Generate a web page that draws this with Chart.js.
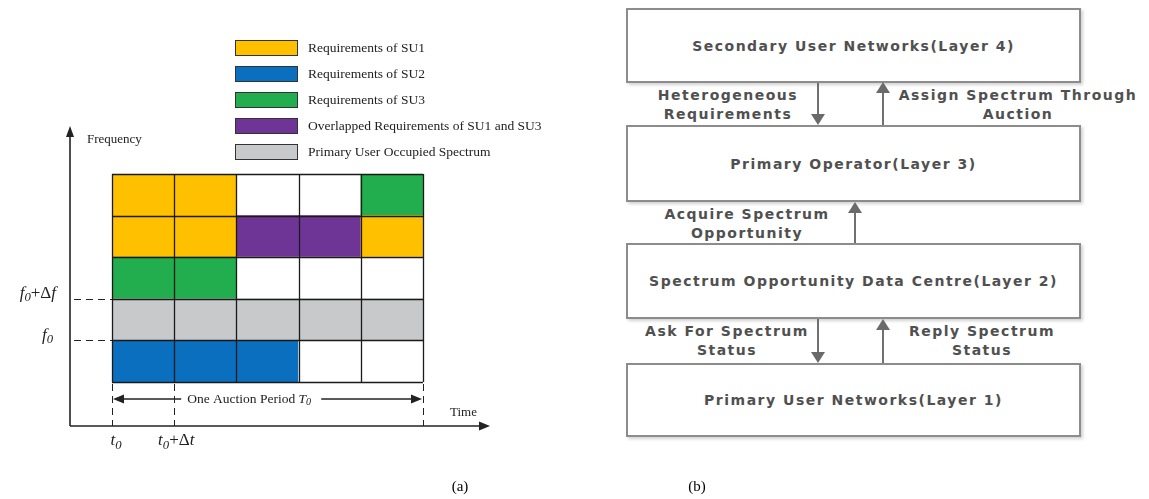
<!DOCTYPE html>
<html>
<head>
<meta charset="utf-8">
<script src="https://cdn.jsdelivr.net/npm/chart.js@4.4.1/dist/chart.umd.min.js"></script>
<style>
  html, body { margin: 0; padding: 0; background: #fff; }
  body { width: 1149px; height: 499px; position: relative; overflow: hidden; }
  #wrapA { position: absolute; left: 0; top: 0; width: 560px; height: 499px; }
  .box {
    position: absolute; left: 626px; width: 455px; box-sizing: border-box;
    border: 2px solid #8c8c8c; background: #fff;
    box-shadow: 2px 2px 3px rgba(0,0,0,0.18);
    display: flex; align-items: center; justify-content: center;
    font: bold 14px "DejaVu Sans", sans-serif; letter-spacing: 1.5px; color: #505050;
  }
  .lbl {
    position: absolute; transform: translateX(-50%); white-space: pre; text-align: center;
    font: bold 14px "DejaVu Sans", sans-serif; letter-spacing: 1.5px; color: #505050; line-height: 19px;
  }
  .stem { position: absolute; width: 2px; background: #707070; }
  .head { position: absolute; width: 0; height: 0; border-left: 7px solid transparent; border-right: 7px solid transparent; }
  .head.down { border-top: 11px solid #6a6a6a; }
  .head.up { border-bottom: 11px solid #6a6a6a; }
  .cap { position: absolute; font: 15px "Liberation Serif", serif; color: #000; transform: translateX(-50%); }
</style>
</head>
<body>
<div id="wrapA"><canvas id="chartA" width="560" height="499"></canvas></div>

<!-- (b) layered architecture -->
<div class="box" style="top:8px;height:75px;">Secondary User Networks(Layer 4)</div>
<div class="box" style="top:125px;height:77px;">Primary Operator(Layer 3)</div>
<div class="box" style="top:243px;height:76px;">Spectrum Opportunity Data Centre(Layer 2)</div>
<div class="box" style="top:363px;height:74px;">Primary User Networks(Layer 1)</div>

<div class="stem" style="left:817px;top:83px;height:32px;"></div>
<div class="head down" style="left:811px;top:114px;"></div>
<div class="stem" style="left:882px;top:92px;height:33px;"></div>
<div class="head up" style="left:876px;top:82px;"></div>

<div class="stem" style="left:854px;top:212px;height:31px;"></div>
<div class="head up" style="left:848px;top:202px;"></div>

<div class="stem" style="left:817px;top:319px;height:33px;"></div>
<div class="head down" style="left:811px;top:352px;"></div>
<div class="stem" style="left:882px;top:329px;height:34px;"></div>
<div class="head up" style="left:876px;top:319px;"></div>

<div class="lbl" style="left:728px;top:86px;">Heterogeneous
Requirements</div>
<div class="lbl" style="left:1018px;top:86px;">Assign Spectrum Through
Auction</div>
<div class="lbl" style="left:747px;top:205px;">Acquire Spectrum
Opportunity</div>
<div class="lbl" style="left:727px;top:322px;">Ask For Spectrum
Status</div>
<div class="lbl" style="left:982px;top:322px;">Reply Spectrum
Status</div>

<div class="cap" style="left:460px;top:478px;">(a)</div>
<div class="cap" style="left:697px;top:478px;">(b)</div>

<script>
// ─── Data: spectrum occupancy grid (a) ─────────────────────
const timeSlots = ['Δt1', 'Δt2', 'Δt3', 'Δt4', 'Δt5'];
// rows from lowest frequency band to highest
const band1 = ['SU2', 'SU2', 'SU2', 'free', 'free'];
const band2 = ['PU', 'PU', 'PU', 'PU', 'PU'];
const band3 = ['SU3', 'SU3', 'free', 'free', 'free'];
const band4 = ['SU1', 'SU1', 'SU13', 'SU13', 'SU1'];
const band5 = ['SU1', 'SU1', 'free', 'free', 'SU3'];
const bands = [band1, band2, band3, band4, band5];

const legendKeys = ['SU1', 'SU2', 'SU3', 'SU13', 'PU'];
const legendLabels = [
    'Requirements of SU1',
    'Requirements of SU2',
    'Requirements of SU3',
    'Overlapped Requirements of SU1 and SU3',
    'Primary User Occupied Spectrum',
];
const COLORS = {
    SU1: '#ffc000', SU2: '#0a6fbf', SU3: '#22ad4e', SU13: '#6f3596', PU: '#c8c9cb', free: '#ffffff',
};

const SERIF = '"Liberation Serif", "Times New Roman", serif';

// draw a run of text pieces, some italic / subscript
function drawRich(ctx, pieces, x, y, align, size) {
    const fontOf = p => `${p.it ? 'italic ' : ''}${p.sub ? size * 0.75 : size}px ${SERIF}`;
    let w = 0;
    pieces.forEach(p => { ctx.font = fontOf(p); w += ctx.measureText(p.t).width; });
    let cx = align === 'right' ? x - w : align === 'center' ? x - w / 2 : x;
    ctx.textAlign = 'left';
    ctx.textBaseline = 'middle';
    pieces.forEach(p => {
        ctx.font = fontOf(p);
        ctx.fillText(p.t, cx, p.sub ? y + size * 0.25 : y);
        cx += ctx.measureText(p.t).width;
    });
    return w;
}

function arrowHead(ctx, x, y, dir) {
    // dir: 'up' | 'right' | 'left'
    ctx.beginPath();
    if (dir === 'up') { ctx.moveTo(x, y); ctx.lineTo(x - 4, y + 11); ctx.lineTo(x + 4, y + 11); }
    if (dir === 'right') { ctx.moveTo(x, y); ctx.lineTo(x - 11, y - 4.5); ctx.lineTo(x - 11, y + 4.5); }
    if (dir === 'left') { ctx.moveTo(x, y); ctx.lineTo(x + 11, y - 4.5); ctx.lineTo(x + 11, y + 4.5); }
    ctx.closePath();
    ctx.fill();
}

const decorPlugin = {
    id: 'decor',
    afterDatasetsDraw(chart) {
        const { ctx, chartArea: a, scales: { x, y } } = chart;
        const colW = x.getPixelForValue(1) - x.getPixelForValue(0);
        const colEdge = i => x.getPixelForValue(0) - colW / 2 + i * colW;
        ctx.save();

        // cell borders
        ctx.strokeStyle = '#1a1a1a';
        ctx.lineWidth = 1.3;
        for (let i = 0; i <= timeSlots.length; i++) {
            const px = Math.round(colEdge(i)) + 0.5;
            ctx.beginPath(); ctx.moveTo(px, a.top); ctx.lineTo(px, a.bottom); ctx.stroke();
        }
        for (let j = 0; j <= bands.length; j++) {
            const py = Math.round(y.getPixelForValue(j)) + 0.5;
            ctx.beginPath(); ctx.moveTo(a.left, py); ctx.lineTo(a.right, py); ctx.stroke();
        }

        // axes
        const ox = a.left - 42, oy = a.bottom + 44;
        ctx.strokeStyle = '#222';
        ctx.fillStyle = '#222';
        ctx.lineWidth = 1.6;
        ctx.beginPath(); ctx.moveTo(ox, oy); ctx.lineTo(ox, a.top - 42); ctx.stroke();
        arrowHead(ctx, ox, a.top - 48, 'up');
        ctx.beginPath(); ctx.moveTo(ox, oy); ctx.lineTo(a.right + 60, oy); ctx.stroke();
        arrowHead(ctx, a.right + 67, oy, 'right');

        // dashed guides
        ctx.lineWidth = 1;
        ctx.setLineDash([7, 5]);
        [2, 1].forEach(v => {
            const py = Math.round(y.getPixelForValue(v)) + 0.5;
            ctx.beginPath(); ctx.moveTo(ox + 4, py); ctx.lineTo(a.left, py); ctx.stroke();
        });
        [0, 1, timeSlots.length].forEach(i => {
            const px = Math.round(colEdge(i)) + 0.5;
            ctx.beginPath(); ctx.moveTo(px, a.bottom + 2); ctx.lineTo(px, oy); ctx.stroke();
        });
        ctx.setLineDash([]);

        // auction period arrow
        const ay = a.bottom + 17;
        ctx.lineWidth = 1.5;
        ctx.beginPath(); ctx.moveTo(colEdge(0) + 4, ay); ctx.lineTo(colEdge(5) - 4, ay); ctx.stroke();
        arrowHead(ctx, colEdge(0) + 1, ay, 'left');
        arrowHead(ctx, colEdge(5) - 1, ay, 'right');
        ctx.fillStyle = '#fff';
        ctx.fillRect(colEdge(1) + 7, ay - 10, 140, 20);
        ctx.fillStyle = '#222';
        drawRich(ctx, [{ t: 'One Auction Period ' }, { t: 'T', it: true }, { t: '0', it: true, sub: true }],
            colEdge(1) + 13, ay, 'left', 13.5);

        // axis texts
        drawRich(ctx, [{ t: 'Frequency' }], ox + 17, a.top - 34, 'left', 13);
        drawRich(ctx, [{ t: 'Time' }], a.right + 27, oy - 13, 'left', 13);
        drawRich(ctx, [{ t: 'f', it: true }, { t: '0', it: true, sub: true }, { t: '+Δ' }, { t: 'f', it: true }],
            ox - 14, y.getPixelForValue(2) - 5, 'right', 17);
        drawRich(ctx, [{ t: 'f', it: true }, { t: '0', it: true, sub: true }],
            ox - 17, y.getPixelForValue(1) - 5, 'right', 17);
        drawRich(ctx, [{ t: 't', it: true }, { t: '0', it: true, sub: true }],
            colEdge(0) + 4, oy + 15, 'center', 17);
        drawRich(ctx, [{ t: 't', it: true }, { t: '0', it: true, sub: true }, { t: '+Δ' }, { t: 't', it: true }],
            colEdge(1) + 2, oy + 15, 'center', 17);

        // legend
        legendKeys.forEach((k, i) => {
            const ly = [48, 74, 100, 126, 152][i];
            ctx.fillStyle = COLORS[k];
            ctx.fillRect(235, ly - 8, 63, 16);
            ctx.strokeStyle = '#333';
            ctx.lineWidth = 1;
            ctx.strokeRect(235.5, ly - 7.5, 62, 15);
            ctx.fillStyle = '#222';
            drawRich(ctx, [{ t: legendLabels[i] }], 308, ly, 'left', 13.5);
        });

        ctx.restore();
    },
};

const datasets = bands.map((owners, b) => ({
    label: 'band ' + (b + 1),
    data: timeSlots.map(() => [b, b + 1]),
    backgroundColor: owners.map(o => COLORS[o]),
    borderWidth: 0,
    grouped: false,
    barPercentage: 1,
    categoryPercentage: 1,
}));

new Chart(document.getElementById('chartA'), {
    type: 'bar',
    data: { labels: timeSlots, datasets },
    options: {
        responsive: false,
        animation: false,
        devicePixelRatio: 1,
        layout: { padding: { left: 112, right: 137, top: 174, bottom: 117 } },
        plugins: { legend: { display: false }, tooltip: { enabled: false } },
        scales: {
            x: { display: false },
            y: { display: false, min: 0, max: bands.length },
        },
    },
    plugins: [decorPlugin],
});
</script>
</body>
</html>
